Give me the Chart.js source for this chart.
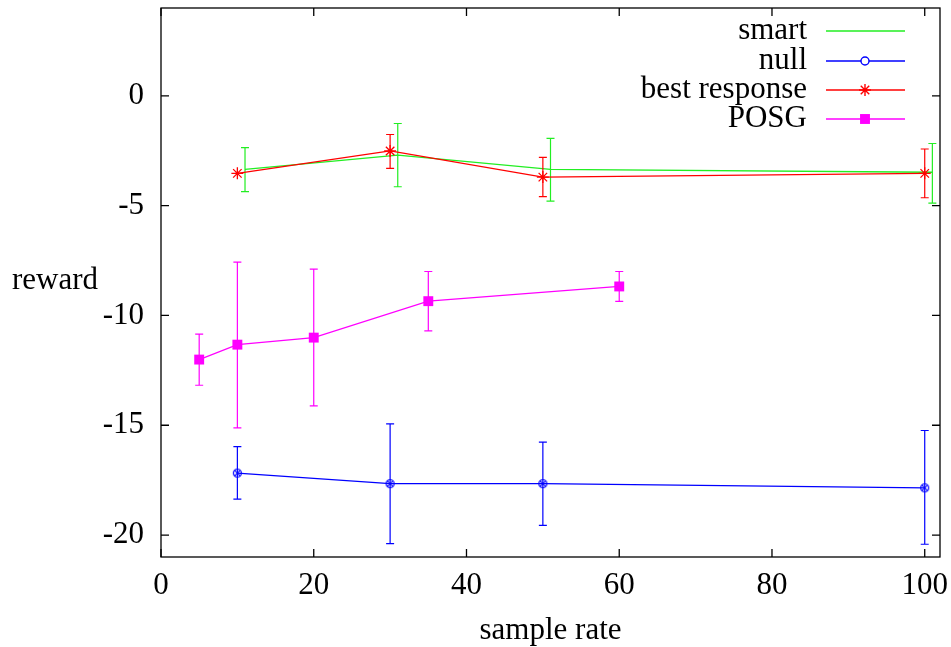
<!DOCTYPE html>
<html>
<head>
<meta charset="utf-8">
<script src="https://cdn.jsdelivr.net/npm/chart.js@4.4.1/dist/chart.umd.min.js"></script>
<style>
  html, body { margin: 0; padding: 0; background: #fff; }
  canvas { display: block; }
</style>
</head>
<body>
<canvas id="grafico" width="951" height="647"></canvas>
<script>
// valores
const xTicks = [0, 20, 40, 60, 80, 100];
const yTicks = [-20, -15, -10, -5, 0];

const smartX = [11, 31, 51, 101];
const smartY = [-3.35, -2.70, -3.35, -3.48];
const smartLow = [-4.36, -4.14, -4.79, -4.89];
const smartHigh = [-2.36, -1.26, -1.94, -2.17];

const nullX = [10, 30, 50, 100];
const nullY = [-17.18, -17.66, -17.66, -17.85];
const nullLow = [-18.36, -20.39, -19.56, -20.42];
const nullHigh = [-15.97, -14.94, -15.77, -15.24];

const bestX = [10, 30, 50, 100];
const bestY = [-3.53, -2.51, -3.70, -3.53];
const bestLow = [null, -3.30, -4.59, -4.64];
const bestHigh = [null, -1.76, -2.80, -2.42];

const posgX = [5, 10, 20, 35, 60];
const posgY = [-12.01, -11.33, -11.01, -9.35, -8.68];
const posgLow = [-13.18, -15.12, -14.12, -10.70, -9.36];
const posgHigh = [-10.85, -7.57, -7.89, -8.00, -8.00];

const seriesNames = ['smart', 'null', 'best response', 'POSG'];
const FONT = '"Liberation Serif", "Times New Roman", serif';
const FSIZE = 31;
const GREEN = '#22ee22', BLUE = '#0000ff', RED = '#ff0000', MAGENTA = '#ff00ff';

function pontos(xs, ys) {
  return xs.map((x, i) => ({ x: x, y: ys[i] }));
}

// marcador do "null": círculo com um x por dentro
function marcadorNull() {
  const c = document.createElement('canvas');
  c.width = 11; c.height = 11;
  const g = c.getContext('2d');
  g.strokeStyle = BLUE; g.lineWidth = 1.2;
  g.beginPath(); g.arc(5.5, 5.5, 4, 0, Math.PI * 2); g.stroke();
  g.beginPath();
  g.moveTo(2.7, 2.7); g.lineTo(8.3, 8.3);
  g.moveTo(8.3, 2.7); g.lineTo(2.7, 8.3);
  g.stroke();
  return c;
}

const barras = [
  { xs: smartX, lo: smartLow, hi: smartHigh, cor: GREEN },
  { xs: nullX, lo: nullLow, hi: nullHigh, cor: BLUE },
  { xs: bestX, lo: bestLow, hi: bestHigh, cor: RED },
  { xs: posgX, lo: posgLow, hi: posgHigh, cor: MAGENTA }
];

const semPadding = s => {
  s.paddingTop = 0; s.paddingBottom = 0;
  s.paddingLeft = 0; s.paddingRight = 0;
};

const estiloGnuplot = {
  id: 'estiloGnuplot',
  afterDatasetDraw(chart, args) {
    const b = barras[args.index];
    if (!b) return;
    const ctx = chart.ctx, sx = chart.scales.x, sy = chart.scales.y;
    ctx.save();
    ctx.strokeStyle = b.cor;
    ctx.lineWidth = 1.2;
    b.xs.forEach((x, i) => {
      if (b.lo[i] == null) return;
      const px = sx.getPixelForValue(x);
      const p1 = sy.getPixelForValue(b.lo[i]);
      const p2 = sy.getPixelForValue(b.hi[i]);
      ctx.beginPath();
      ctx.moveTo(px, p1); ctx.lineTo(px, p2);
      ctx.moveTo(px - 4, p1); ctx.lineTo(px + 4, p1);
      ctx.moveTo(px - 4, p2); ctx.lineTo(px + 4, p2);
      ctx.stroke();
    });
    ctx.restore();
  },
  afterDraw(chart) {
    const ctx = chart.ctx, a = chart.chartArea;
    const sx = chart.scales.x, sy = chart.scales.y;
    ctx.save();
    // moldura e marcas para dentro nos quatro lados
    ctx.strokeStyle = '#000';
    ctx.lineWidth = 1.3;
    ctx.strokeRect(a.left, a.top, a.right - a.left, a.bottom - a.top);
    ctx.beginPath();
    xTicks.forEach(v => {
      const px = sx.getPixelForValue(v);
      ctx.moveTo(px, a.bottom); ctx.lineTo(px, a.bottom - 8);
      ctx.moveTo(px, a.top); ctx.lineTo(px, a.top + 8);
    });
    yTicks.forEach(v => {
      const py = sy.getPixelForValue(v);
      ctx.moveTo(a.left, py); ctx.lineTo(a.left + 8, py);
      ctx.moveTo(a.right, py); ctx.lineTo(a.right - 8, py);
    });
    ctx.stroke();

    // títulos dos eixos
    ctx.fillStyle = '#000';
    ctx.font = FSIZE + 'px ' + FONT;
    ctx.textBaseline = 'middle';
    ctx.textAlign = 'center';
    ctx.fillText('sample rate', (a.left + a.right) / 2, 631);
    ctx.textAlign = 'left';
    ctx.fillText('reward', 12, 281);

    // legenda
    const ds = chart.data.datasets;
    const linhaY = [31, 61, 90, 119];
    ds.forEach((d, i) => {
      const y = linhaY[i];
      ctx.textAlign = 'right';
      ctx.fillStyle = '#000';
      ctx.fillText(seriesNames[i], 807, y);
      ctx.strokeStyle = d.borderColor;
      ctx.lineWidth = 1.4;
      ctx.beginPath(); ctx.moveTo(826, y); ctx.lineTo(905, y); ctx.stroke();
      if (d.pointRadius > 0) {
        ctx.fillStyle = i === 1 ? '#fff' : d.borderColor;
        ctx.strokeStyle = d.borderColor;
        Chart.helpers.drawPoint(ctx, {
          pointStyle: i === 1 ? 'circle' : d.pointStyle,
          rotation: 0,
          radius: i === 1 ? 4 : d.pointRadius,
          borderWidth: i === 3 ? 0 : 1.2
        }, 865, y);
      }
    });
    ctx.restore();
  }
};

const ctx = document.getElementById('grafico').getContext('2d');
new Chart(ctx, {
  type: 'line',
  data: {
    datasets: [
      {
        label: seriesNames[0], data: pontos(smartX, smartY), order: 4,
        borderColor: GREEN, borderWidth: 1.3, pointRadius: 0
      },
      {
        label: seriesNames[1], data: pontos(nullX, nullY), order: 3,
        borderColor: BLUE, borderWidth: 1.2, pointStyle: marcadorNull(),
        pointRadius: 4, pointBackgroundColor: 'rgba(0,0,0,0)'
      },
      {
        label: seriesNames[2], data: pontos(bestX, bestY), order: 2,
        borderColor: RED, borderWidth: 1.2, pointStyle: 'star',
        pointRadius: 6, pointBorderWidth: 1.3, pointBorderColor: RED
      },
      {
        label: seriesNames[3], data: pontos(posgX, posgY), order: 1,
        borderColor: MAGENTA, borderWidth: 1.2, pointStyle: 'rect',
        pointRadius: 7, pointBackgroundColor: MAGENTA, pointBorderColor: MAGENTA,
        pointBorderWidth: 0
      }
    ]
  },
  options: {
    responsive: false,
    animation: false,
    layout: { padding: { left: 0, top: 8, right: 11, bottom: 0 } },
    plugins: { legend: { display: false }, tooltip: { enabled: false } },
    elements: { line: { tension: 0, fill: false } },
    scales: {
      x: {
        type: 'linear', min: 0, max: 102,
        afterBuildTicks: s => { s.ticks = xTicks.map(v => ({ value: v })); },
        afterFit: s => { s.height = 90; semPadding(s); },
        grid: { display: false, drawTicks: false },
        border: { display: false },
        ticks: { font: { family: FONT, size: FSIZE }, color: '#000', padding: 10, maxRotation: 0 }
      },
      y: {
        type: 'linear', min: -21, max: 4,
        afterBuildTicks: s => { s.ticks = yTicks.map(v => ({ value: v })); },
        afterFit: s => { s.width = 161; semPadding(s); },
        grid: { display: false, drawTicks: false },
        border: { display: false },
        ticks: { font: { family: FONT, size: FSIZE }, color: '#000', padding: 17 }
      }
    }
  },
  plugins: [estiloGnuplot]
});
</script>
</body>
</html>
